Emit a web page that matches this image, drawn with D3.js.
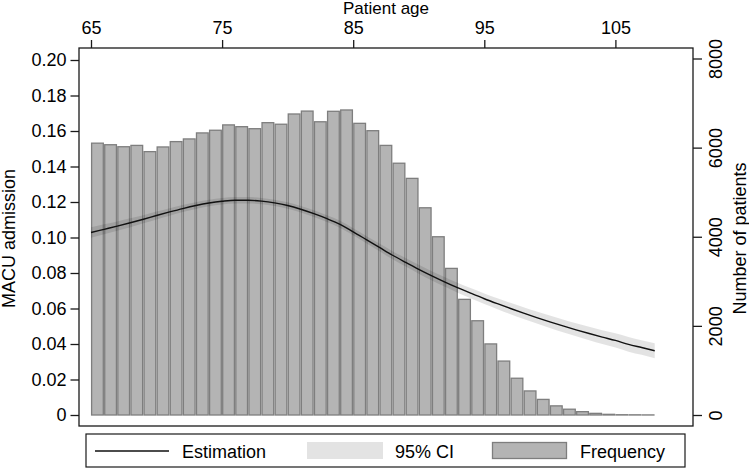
<!DOCTYPE html>
<html>
<head>
<meta charset="utf-8">
<script src="https://cdn.jsdelivr.net/npm/d3@7"></script>
<style>
  body { margin: 0; background: #fff; }
  text { font-family: "Liberation Sans", Arial, sans-serif; fill: #000; }
</style>
</head>
<body>
<div id="chart"></div>
<script>
// ages of the histogram bins (left edge of each 1-year bin)
const binAges = d3.range(65, 108);
// number of patients per bin
const counts = [6100, 6065, 6020, 6050, 5910, 6015, 6135, 6195, 6330, 6390,
  6510, 6470, 6425, 6560, 6525, 6755, 6820, 6580, 6815, 6845,
  6545, 6380, 6050, 5650, 5310, 4650, 4000, 3290, 2595, 2115,
  1595, 1210, 825, 540, 350, 205, 130, 75, 37, 15, 6, 4, 2];

// estimated probability of MACU admission
const curveAges = d3.range(65, 109);
const estimate = [0.1028, 0.1046, 0.1064, 0.1083, 0.1103, 0.1124, 0.1144, 0.1163, 0.1180, 0.1194,
  0.1204, 0.1210, 0.1210, 0.1205, 0.1195, 0.1180, 0.1159, 0.1134, 0.1106, 0.1074,
  0.1032, 0.0988, 0.0944, 0.0900, 0.0860, 0.0821, 0.0784, 0.0749, 0.0716, 0.0685,
  0.0655, 0.0627, 0.0600, 0.0574, 0.0549, 0.0525, 0.0502, 0.0480, 0.0459, 0.0439,
  0.0420, 0.0398, 0.0380, 0.0362];
const ciLow = [0.0998, 0.1018, 0.1038, 0.1058, 0.1080, 0.1102, 0.1123, 0.1143, 0.1161, 0.1176,
  0.1186, 0.1192, 0.1192, 0.1187, 0.1177, 0.1162, 0.1141, 0.1115, 0.1087, 0.1054,
  0.1012, 0.0967, 0.0922, 0.0877, 0.0836, 0.0796, 0.0758, 0.0722, 0.0688, 0.0656,
  0.0625, 0.0596, 0.0568, 0.0541, 0.0515, 0.0490, 0.0466, 0.0443, 0.0421, 0.0400,
  0.0380, 0.0357, 0.0339, 0.0320];
const ciHigh = [0.1058, 0.1074, 0.1090, 0.1108, 0.1126, 0.1146, 0.1165, 0.1183, 0.1199, 0.1212,
  0.1222, 0.1228, 0.1228, 0.1223, 0.1213, 0.1198, 0.1177, 0.1153, 0.1125, 0.1094,
  0.1052, 0.1009, 0.0966, 0.0923, 0.0884, 0.0846, 0.0810, 0.0776, 0.0744, 0.0714,
  0.0685, 0.0658, 0.0632, 0.0607, 0.0583, 0.0560, 0.0538, 0.0517, 0.0497, 0.0478,
  0.0460, 0.0439, 0.0421, 0.0404];

const ageTicks = [65, 75, 85, 95, 105];
const probTicks = [0, 0.02, 0.04, 0.06, 0.08, 0.10, 0.12, 0.14, 0.16, 0.18, 0.20];
const countTicks = [0, 2000, 4000, 6000, 8000];
const legendItems = ["Estimation", "95% CI", "Frequency"];

const W = 749, H = 468;
const frame = { left: 79, right: 693, top: 48, bottom: 426 };
const fs = "18px";

const svg = d3.select("#chart").append("svg")
  .attr("width", W).attr("height", H);

const x = d3.scaleLinear().domain([65, 105]).range([91, 615.4]);
const yL = d3.scaleLinear().domain([0, 0.2]).range([415, 60]);
const yR = d3.scaleLinear().domain([0, 8000]).range([415, 58.5]);

const barFill = "#b4b4b4", barStroke = "#7e7e7e";

// bars
const step = x(66) - x(65);
svg.append("g")
  .selectAll("rect")
  .data(binAges)
  .join("rect")
  .attr("x", d => x(d) + 0.6)
  .attr("width", step - 1.4)
  .attr("y", (d, i) => yR(counts[i]))
  .attr("height", (d, i) => yR(0) - yR(counts[i]))
  .attr("fill", barFill)
  .attr("stroke", barStroke)
  .attr("stroke-width", 1.3);

// confidence band
const band = d3.area()
  .x((d, i) => x(curveAges[i]))
  .y0((d, i) => yL(ciLow[i]))
  .y1((d, i) => yL(ciHigh[i]))
  .curve(d3.curveMonotoneX);
svg.append("path")
  .attr("d", band(curveAges))
  .attr("fill", "rgba(0,0,0,0.11)");

// estimation line
const line = d3.line()
  .x((d, i) => x(curveAges[i]))
  .y((d, i) => yL(estimate[i]))
  .curve(d3.curveMonotoneX);
svg.append("path")
  .attr("d", line(curveAges))
  .attr("fill", "none")
  .attr("stroke", "#111")
  .attr("stroke-width", 1.4);

// frame
svg.append("rect")
  .attr("x", frame.left).attr("y", frame.top)
  .attr("width", frame.right - frame.left)
  .attr("height", frame.bottom - frame.top)
  .attr("fill", "none")
  .attr("stroke", "#1a1a1a")
  .attr("stroke-width", 1.3);

// top axis
const topAxis = svg.append("g")
  .attr("transform", `translate(0,${frame.top})`)
  .call(d3.axisTop(x).tickValues(ageTicks).tickSize(8).tickSizeOuter(0).tickPadding(6));
topAxis.select(".domain").remove();
topAxis.selectAll("line").attr("stroke", "#1a1a1a").attr("stroke-width", 1.3);
topAxis.selectAll("text").style("font-size", fs).attr("fill", "#000");

// left axis
const leftAxis = svg.append("g")
  .attr("transform", `translate(${frame.left},0)`)
  .call(d3.axisLeft(yL).tickValues(probTicks).tickSize(8.5).tickPadding(4)
    .tickFormat(d => d === 0 ? "0" : d3.format(".2f")(d)));
leftAxis.select(".domain").remove();
leftAxis.selectAll("line").attr("stroke", "#1a1a1a").attr("stroke-width", 1.3);
leftAxis.selectAll("text").style("font-size", fs).attr("fill", "#000");

// right axis, labels rotated
const rightAxis = svg.append("g")
  .attr("transform", `translate(${frame.right},0)`)
  .call(d3.axisRight(yR).tickValues(countTicks).tickSize(9).tickFormat(d3.format("d")));
rightAxis.select(".domain").remove();
rightAxis.selectAll("line").attr("stroke", "#1a1a1a").attr("stroke-width", 1.3);
rightAxis.selectAll("text")
  .style("font-size", fs).attr("fill", "#000")
  .attr("x", 0).attr("dy", null)
  .attr("text-anchor", "middle")
  .attr("transform", "translate(29,0) rotate(-90)");

// axis titles
svg.append("text")
  .attr("x", (frame.left + frame.right) / 2).attr("y", 13.5)
  .attr("text-anchor", "middle").style("font-size", "17px")
  .text("Patient age");
svg.append("text")
  .attr("transform", `translate(15,${yL(0.1) + 1}) rotate(-90)`)
  .attr("text-anchor", "middle").style("font-size", fs)
  .text("MACU admission");
svg.append("text")
  .attr("transform", `translate(746,${yL(0.1) + 1}) rotate(-90)`)
  .attr("text-anchor", "middle").style("font-size", fs)
  .text("Number of patients");

// legend
const lg = svg.append("g");
lg.append("rect")
  .attr("x", 86).attr("y", 434).attr("width", 599).attr("height", 33)
  .attr("fill", "#fff").attr("stroke", "#1a1a1a").attr("stroke-width", 1.2);
lg.append("line")
  .attr("x1", 95).attr("x2", 169).attr("y1", 451).attr("y2", 451)
  .attr("stroke", "#111").attr("stroke-width", 1.3);
lg.append("rect")
  .attr("x", 307).attr("y", 442).attr("width", 76).attr("height", 17)
  .attr("fill", "rgba(0,0,0,0.11)");
lg.append("rect")
  .attr("x", 492.5).attr("y", 442.5).attr("width", 74).attr("height", 16)
  .attr("fill", barFill).attr("stroke", barStroke).attr("stroke-width", 1.3);
const legendX = [182, 395, 580];
lg.selectAll("text.lab")
  .data(legendItems)
  .join("text")
  .attr("class", "lab")
  .attr("x", (d, i) => legendX[i]).attr("y", 458)
  .style("font-size", fs)
  .text(d => d);
</script>
</body>
</html>
